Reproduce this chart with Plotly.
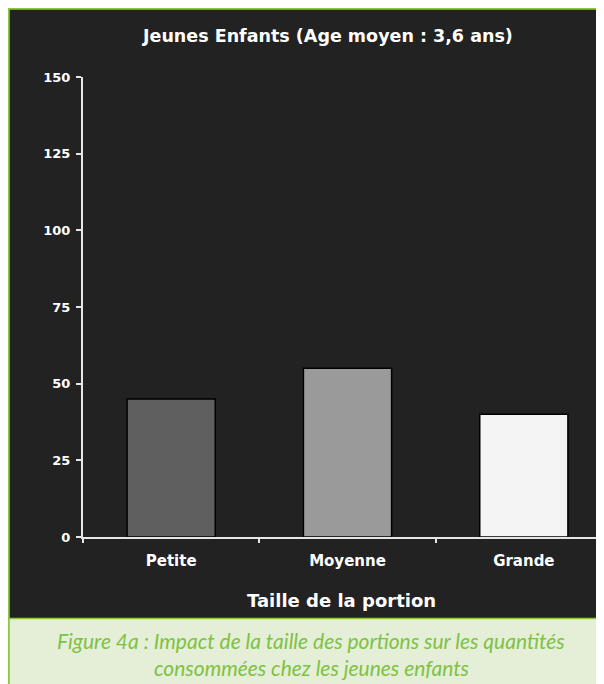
import plotly.graph_objects as go

categories = ["Petite", "Moyenne", "Grande"]
values = [45, 55, 40]
bar_colors = ["#5f5f5f", "#9a9a9a", "#f4f4f4"]
y_ticks = [0, 25, 50, 75, 100, 125, 150]

title_text = "Jeunes Enfants (Age moyen : 3,6 ans)"
x_title = "Taille de la portion"
caption_lines = ["Figure 4a : Impact de la taille des portions sur les quantités",
                 "consommées chez les jeunes enfants"]

W, H = 604, 684
L, R, T, B = 75, 0, 69, 155
PW, PH = W - L - R, H - T - B


def px(x):
    return (x - L) / PW


def py(y):
    return (H - B - y) / PH


GREEN = "#8cc63f"
PANEL = "#222222"
AXIS = "#e6e6e6"
FONT = "DejaVu Sans"

fig = go.Figure(go.Bar(
    x=categories, y=values,
    marker=dict(color=bar_colors, line=dict(color="#000000", width=1.5)),
    width=0.5,
))

shapes = [
    dict(type="rect", xref="paper", yref="paper", x0=px(0), x1=px(W), y0=py(610.5), y1=py(0),
         fillcolor=PANEL, line=dict(width=0), layer="below"),
    dict(type="rect", xref="paper", yref="paper", x0=px(0), x1=px(W), y0=py(H), y1=py(610.5),
         fillcolor="#e5efd7", line=dict(width=0), layer="below"),
    dict(type="line", xref="paper", yref="paper", x0=px(0), x1=px(W), y0=py(0.75), y1=py(0.75),
         line=dict(color=GREEN, width=2), layer="below"),
    dict(type="line", xref="paper", yref="paper", x0=px(0.75), x1=px(0.75), y0=py(0), y1=py(H),
         line=dict(color=GREEN, width=2), layer="below"),
    dict(type="line", xref="paper", yref="paper", x0=px(0), x1=px(W), y0=py(610.5), y1=py(610.5),
         line=dict(color=GREEN, width=1.5), layer="below"),
]

annotations = [
    dict(text=title_text, xref="paper", yref="paper", x=px(319), y=py(28), showarrow=False,
         xanchor="center", yanchor="middle",
         font=dict(family=FONT, size=17.5, color="#ffffff", weight="bold")),
    dict(text=x_title, xref="paper", yref="paper", x=px(333), y=py(592), showarrow=False,
         xanchor="center", yanchor="middle",
         font=dict(family=FONT, size=18, color="#ffffff", weight="bold")),
    dict(text=caption_lines[0], xref="paper", yref="paper", x=px(303), y=py(632), showarrow=False,
         xanchor="center", yanchor="middle",
         font=dict(family="Lato", size=21, color="#7dc242", style="italic")),
    dict(text=caption_lines[1], xref="paper", yref="paper", x=px(303), y=py(659), showarrow=False,
         xanchor="center", yanchor="middle",
         font=dict(family="Lato", size=21, color="#7dc242", style="italic")),
]

fig.update_layout(
    width=W, height=H,
    margin=dict(l=L, r=R, t=T, b=B, pad=0),
    paper_bgcolor="#ffffff",
    plot_bgcolor=PANEL,
    showlegend=False,
    bargap=0.5,
    shapes=shapes,
    annotations=annotations,
    xaxis=dict(
        range=[-0.5, 2.5], showgrid=False, zeroline=False,
        showline=True, linecolor=AXIS, linewidth=2,
        ticks="outside", tickson="boundaries", ticklen=4, tickwidth=1.5, tickcolor=AXIS,
        ticklabelstandoff=9,
        tickfont=dict(family=FONT, size=15, color="#ffffff", weight="bold"),
        fixedrange=True,
    ),
    yaxis=dict(
        range=[0, 150], tickvals=y_ticks, showgrid=False, zeroline=False,
        showline=True, linecolor=AXIS, linewidth=2,
        ticks="outside", ticklen=5, tickwidth=1.5, tickcolor=AXIS,
        ticklabelstandoff=3,
        tickfont=dict(family=FONT, size=13, color="#ffffff", weight="bold"),
        fixedrange=True,
    ),
)

fig.write_html("out.html")
